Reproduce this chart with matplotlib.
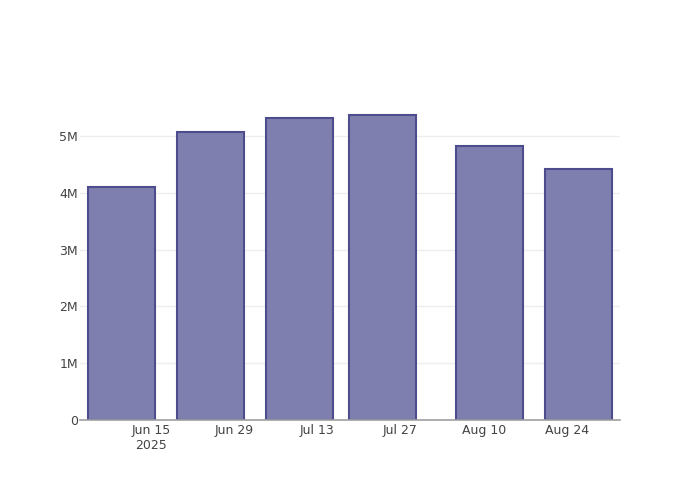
import matplotlib
matplotlib.use("Agg")
import matplotlib.pyplot as plt
import matplotlib.dates as mdates
import numpy as np

# data
dates = np.array(["2025-06-10", "2025-06-25", "2025-07-10", "2025-07-24",
                  "2025-08-11", "2025-08-26"], dtype="datetime64[D]")
values = [4.10e6, 5.08e6, 5.33e6, 5.37e6, 4.82e6, 4.42e6]
tick_dates = np.array(["2025-06-15", "2025-06-29", "2025-07-13", "2025-07-27",
                       "2025-08-10", "2025-08-24"], dtype="datetime64[D]")
tick_labels = ["Jun 15\n2025", "Jun 29", "Jul 13", "Jul 27", "Aug 10", "Aug 24"]
y_ticks = [0, 1e6, 2e6, 3e6, 4e6, 5e6]
y_labels = ["0", "1M", "2M", "3M", "4M", "5M"]

fig = plt.figure(figsize=(7, 5), dpi=100)
ax = fig.add_axes([80 / 700, 80 / 500, 540 / 700, 320 / 500])

# bar width = 0.8 * smallest gap (14 days)
width = 0.8 * 14
x = mdates.date2num(dates)
ax.bar(x, values, width=width, color="#7f7faf", edgecolor="#4d4d8d",
       linewidth=1.5, zorder=2)

ax.set_xlim(x.min() - width / 2 - 1.35, x.max() + width / 2 + 1.35)
ax.set_ylim(0, max(values) * 1.05)

ax.set_xticks(mdates.date2num(tick_dates))
ax.set_xticklabels(tick_labels)
ax.set_yticks(y_ticks)
ax.set_yticklabels(y_labels)
ax.tick_params(axis="both", length=0, labelsize=9, labelcolor="#444444")
ax.tick_params(axis="x", pad=3)
ax.tick_params(axis="y", pad=1.5)

# grid shows faintly through the translucent bars in the reference
ax.grid(axis="y", color="#eeeeee", linewidth=1, zorder=0)
for s in ["top", "right", "left"]:
    ax.spines[s].set_visible(False)
ax.spines["bottom"].set_color("#a0a0a0")
ax.spines["bottom"].set_linewidth(1.2)
ax.spines["bottom"].set_zorder(4)

fig.savefig("out.png", dpi=100)
